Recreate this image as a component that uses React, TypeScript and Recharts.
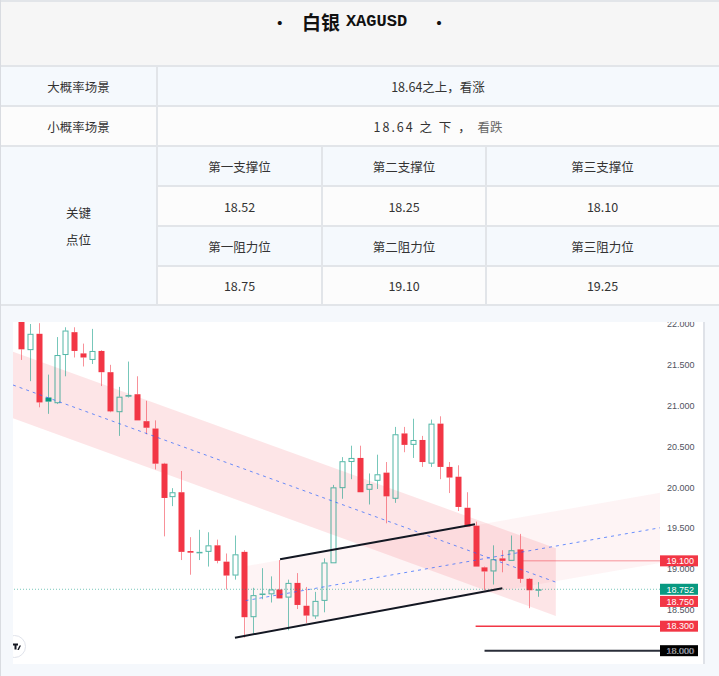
import React from 'react';
import { ComposedChart, Bar, Area, XAxis, YAxis, ReferenceLine } from 'recharts';

// ---------- table content ----------
const titleCn = '白银';
const titleCode = 'XAGUSD';
const scenarioLabels = ['大概率场景', '小概率场景'];
const keyLabelLines = ['关键', '点位'];
const supportLabels = ['第一支撑位', '第二支撑位', '第三支撑位'];
const supportValues = ['18.52', '18.25', '18.10'];
const resistanceLabels = ['第一阻力位', '第二阻力位', '第三阻力位'];
const resistanceValues = ['18.75', '19.10', '19.25'];

// ---------- candle data (daily bars, index = position) ----------
const opens = [22.10,21.68,21.88,21.10,21.03,21.62,21.90,21.64,21.56,21.67,21.41,20.92,21.11,21.14,20.81,20.72,20.29,19.88,19.94,19.22,19.20,19.21,19.29,19.09,18.92,19.21,18.41,18.69,18.69,18.75,18.65,18.83,18.55,18.42,18.61,19.07,19.99,20.31,20.36,19.97,20.08,20.18,19.86,20.66,20.52,20.58,20.29,20.78,20.25,20.13,19.75,19.53,19.02,18.97,19.13,19.10,19.24,18.88,18.74];
const highs = [22.20,22.00,22.01,21.38,21.84,21.96,21.96,21.76,21.94,21.68,21.50,21.23,21.54,21.36,21.06,20.82,20.30,19.99,20.20,19.39,19.48,19.45,19.36,19.19,19.41,19.23,18.77,19.01,18.91,19.11,18.87,18.95,18.78,18.72,19.13,20.03,20.37,20.51,20.51,20.17,20.40,20.31,20.74,20.74,20.84,20.63,20.83,20.87,20.31,20.27,19.94,19.58,19.03,19.29,19.23,19.41,19.43,18.89,18.84];
const lows = [21.56,21.30,20.98,20.90,21.02,21.36,21.59,21.48,21.51,21.24,20.92,20.63,21.10,20.82,20.65,20.22,19.40,19.77,19.11,18.93,19.11,19.03,19.07,18.75,18.87,18.16,18.21,18.63,18.59,18.64,18.25,18.51,18.34,18.39,18.47,19.07,19.86,20.10,19.94,19.79,19.98,19.56,19.81,20.43,20.36,20.25,20.25,20.10,19.93,19.71,19.52,19.03,18.74,18.81,18.96,19.10,18.83,18.52,18.66];
const closes = [21.69,21.88,21.04,21.05,21.62,21.92,21.67,21.59,21.67,21.41,20.93,21.11,21.13,20.82,20.73,20.29,19.87,19.94,19.21,19.20,19.21,19.29,19.10,18.92,19.18,18.41,18.68,18.70,18.75,18.64,18.83,18.56,18.43,18.61,19.08,20.00,20.32,20.36,19.94,20.04,20.16,19.89,20.65,20.52,20.58,20.31,20.78,20.25,20.12,19.76,19.52,19.03,18.97,19.12,19.10,19.23,18.88,18.74,18.752];

// ---------- axis ----------
const yTicks = [18, 18.5, 19, 19.5, 20, 20.5, 21, 21.5, 22];
const X_DOMAIN = [-0.8975, 71.685];
const Y_DOMAIN = [17.837, 22.0245];

// ---------- drawings ----------
const descChannelX = [-0.8975, 60];
const descChannelTop = [21.661, 19.254];
const descChannelBottom = [20.845, 18.425];
const descMedian = [21.253, 18.839];

const ascChannelX = [25.2, 71.685];
const ascChannelTop = [19.035, 19.935];
const ascChannelBottom = [18.19, 19.074];
const ascMedian = [18.613, 19.505];

const upperTrendX = [29.06, 50.93];
const upperTrendY = [19.119, 19.548];
const lowerTrendX = [24.0, 54.0];
const lowerTrendY = [18.159, 18.764];

const lastPrice = 18.752;
const resistPrice = 19.1;
const resistStart = 56.3;
const stopPrice = 18.3;
const stopStart = 51.0;
const targetPrice = 18.0;
const targetStart = 52.0;
const levelTagPrice = 18.75;

const RED = '#f23645';
const GREEN = '#089981';

const candles = opens.map((o, i) => ({
  x: i,
  open: o,
  high: highs[i],
  low: lows[i],
  close: closes[i],
  range: [lows[i], highs[i]],
  up: i === 0 ? closes[i] >= o : closes[i] >= closes[i - 1],
  hollow: closes[i] > o,
}));

const descChannel = descChannelX.map((x, k) => ({ x, band: [descChannelBottom[k], descChannelTop[k]] }));
const ascChannel = ascChannelX.map((x, k) => ({ x, band: [ascChannelBottom[k], ascChannelTop[k]] }));

const CandleShape = (props: any) => {
  const { x, y, width, height, payload } = props;
  if (payload == null || x == null) return null;
  const top = Math.min(y, y + height);
  const h = Math.abs(height);
  const { open, close, high, low, up, hollow } = payload;
  const span = high - low || 1;
  const py = (p: number) => top + ((high - p) / span) * h;
  const cx = Math.round(x + width / 2) + 0.5;
  const color = up ? GREEN : RED;
  const bTop = py(Math.max(open, close));
  const bBot = py(Math.min(open, close));
  const bh = Math.max(bBot - bTop, 1.5);
  return (
    <g>
      <line x1={cx} x2={cx} y1={top} y2={bTop} stroke={color} strokeOpacity={0.55} strokeWidth={1} />
      <line x1={cx} x2={cx} y1={bTop + bh} y2={top + h} stroke={color} strokeOpacity={0.55} strokeWidth={1} />
      {hollow ? (
        <rect x={cx - 2.5} y={bTop + 0.5} width={5} height={Math.max(bh - 1, 0.5)} fill="none" stroke={color} strokeOpacity={0.7} strokeWidth={1} />
      ) : (
        <rect x={cx - 3} y={bTop} width={6} height={bh} fill={color} />
      )}
    </g>
  );
};

const Tag = ({ viewBox, text, fill, dy = 0 }: any) => {
  if (!viewBox) return null;
  const x = viewBox.x + viewBox.width;
  const y = viewBox.y + dy;
  return (
    <g>
      <rect x={x} y={y - 5.5} width={38} height={11} fill={fill} />
      <text x={x + 6.5} y={y} dy="0.36em" fill="#ffffff" fontSize={9} fontFamily="'Liberation Sans', Arial, sans-serif">
        {text}
      </text>
    </g>
  );
};

const FONT = "'Noto Sans CJK SC', 'Noto Sans', sans-serif";
const LINE = '#e2e5e9';
const BLUE_BG = '#f5f9fd';
const WHITE_BG = '#fcfcfc';

const Box = ({ l, t, w, h, bg, children, style }: any) => (
  <div
    style={{
      position: 'absolute', left: l, top: t, width: w, height: h, background: bg,
      display: 'flex', alignItems: 'center', justifyContent: 'center',
      fontFamily: FONT, fontSize: 12.5, color: '#333', ...style,
    }}
  >
    {children}
  </div>
);

const HLine = ({ x, y, w }: any) => (
  <div style={{ position: 'absolute', left: x, top: y, width: w, height: 2, background: LINE }} />
);
const VLine = ({ x, y, h }: any) => (
  <div style={{ position: 'absolute', left: x, top: y, width: 2, height: h, background: LINE }} />
);

export default function App() {
  const colX = [157, 322, 486, 719];
  return (
    <div style={{ position: 'absolute', left: 0, top: 0, width: 719, height: 676, background: '#fff', overflow: 'hidden' }}>
      {/* title */}
      <Box l={0} t={0} w={719} h={66} bg="#f6f6f6" style={{ alignItems: 'flex-start' }}>
        <div style={{ marginTop: 8, fontWeight: 700, fontSize: 19, color: '#111', whiteSpace: 'pre', display: 'flex', alignItems: 'center' }}>
          <span style={{ fontSize: 16 }}>•</span>
          <span style={{ marginLeft: 14 }}>{titleCn}</span>
          <span style={{ marginLeft: 6, fontFamily: "'Liberation Mono', monospace", fontSize: 17 }}>{titleCode}</span>
          <span style={{ marginLeft: 24, fontSize: 16 }}>•</span>
        </div>
      </Box>
      {/* scenario rows */}
      <Box l={0} t={66} w={157} h={40} bg={BLUE_BG}>{scenarioLabels[0]}</Box>
      <Box l={157} t={66} w={562} h={40} bg={BLUE_BG}>18.64之上，看涨</Box>
      <Box l={0} t={106} w={157} h={40} bg={WHITE_BG}>{scenarioLabels[1]}</Box>
      <Box l={157} t={106} w={562} h={40} bg={WHITE_BG} style={{ whiteSpace: 'pre' }}>
        <span style={{ letterSpacing: 2 }}>18.64 之 下 ， </span>
        <span style={{ color: '#666' }}>看跌</span>
      </Box>
      {/* key levels */}
      <Box l={0} t={146} w={157} h={159} bg={BLUE_BG} style={{ flexDirection: 'column', lineHeight: '27px' }}>
        <div>{keyLabelLines[0]}</div>
        <div>{keyLabelLines[1]}</div>
      </Box>
      {supportLabels.map((s, k) => (
        <Box key={'sl' + k} l={colX[k]} t={146} w={colX[k + 1] - colX[k]} h={40} bg={BLUE_BG}>{s}</Box>
      ))}
      {supportValues.map((s, k) => (
        <Box key={'sv' + k} l={colX[k]} t={186} w={colX[k + 1] - colX[k]} h={40} bg={WHITE_BG}>{s}</Box>
      ))}
      {resistanceLabels.map((s, k) => (
        <Box key={'rl' + k} l={colX[k]} t={226} w={colX[k + 1] - colX[k]} h={40} bg={BLUE_BG}>{s}</Box>
      ))}
      {resistanceValues.map((s, k) => (
        <Box key={'rv' + k} l={colX[k]} t={266} w={colX[k + 1] - colX[k]} h={39} bg={WHITE_BG}>{s}</Box>
      ))}
      {/* grid lines */}
      <HLine x={0} y={0} w={719} />
      <HLine x={0} y={65} w={719} />
      <HLine x={0} y={105} w={719} />
      <HLine x={0} y={145} w={719} />
      <HLine x={157} y={185} w={562} />
      <HLine x={157} y={225} w={562} />
      <HLine x={157} y={265} w={562} />
      <HLine x={0} y={304} w={719} />
      <VLine x={156} y={66} h={239} />
      <VLine x={321} y={146} h={159} />
      <VLine x={485} y={146} h={159} />

      {/* chart area */}
      <div style={{ position: 'absolute', left: 0, top: 306, width: 719, height: 370, background: '#f5f8fc' }} />
      <div style={{ position: 'absolute', left: 0, top: 0, width: 1, height: 676, background: '#d9dce1' }} />
      <div style={{ position: 'absolute', left: 13, top: 322, width: 690, height: 342, background: '#fff', overflow: 'hidden' }}>
        <ComposedChart width={690} height={342} data={candles} margin={{ top: 0, right: 0, bottom: 0, left: 0 }}>
          <XAxis dataKey="x" type="number" domain={X_DOMAIN} allowDataOverflow hide />
          <YAxis
            orientation="right"
            width={43}
            domain={Y_DOMAIN}
            allowDataOverflow
            ticks={yTicks}
            interval={0}
            tickFormatter={(v: number) => v.toFixed(3)}
            axisLine={false}
            tickLine={false}
            tickSize={5}
            tickMargin={2}
            tick={{ fill: '#50535e', fontSize: 9, fontFamily: "'Liberation Sans', Arial, sans-serif" }}
          />
          <Area data={descChannel} dataKey="band" type="linear" stroke="none" fill={RED} fillOpacity={0.13} isAnimationActive={false} dot={false} activeDot={false} />
          <Area data={ascChannel} dataKey="band" type="linear" stroke="none" fill={RED} fillOpacity={0.055} isAnimationActive={false} dot={false} activeDot={false} />
          <ReferenceLine
            y={lastPrice}
            stroke={GREEN}
            strokeOpacity={0.55}
            strokeDasharray="1 2"
            label={(p: any) => <Tag viewBox={p.viewBox} text={lastPrice.toFixed(3)} fill={GREEN} />}
          />
          <Bar dataKey="range" barSize={6} shape={<CandleShape />} isAnimationActive={false} />
          <ReferenceLine
            segment={[{ x: descChannelX[0], y: descMedian[0] }, { x: descChannelX[1], y: descMedian[1] }]}
            stroke="#2962ff" strokeOpacity={0.7} strokeDasharray="3 4"
          />
          <ReferenceLine
            segment={[{ x: ascChannelX[0], y: ascMedian[0] }, { x: ascChannelX[1], y: ascMedian[1] }]}
            stroke="#2962ff" strokeOpacity={0.7} strokeDasharray="3 4"
          />
          <ReferenceLine
            segment={[{ x: upperTrendX[0], y: upperTrendY[0] }, { x: upperTrendX[1], y: upperTrendY[1] }]}
            stroke="#131722" strokeWidth={2}
          />
          <ReferenceLine
            segment={[{ x: lowerTrendX[0], y: lowerTrendY[0] }, { x: lowerTrendX[1], y: lowerTrendY[1] }]}
            stroke="#131722" strokeWidth={2}
          />
          <ReferenceLine
            segment={[{ x: resistStart, y: resistPrice }, { x: X_DOMAIN[1], y: resistPrice }]}
            stroke={RED} strokeOpacity={0.35} strokeWidth={1.5}
            label={(p: any) => <Tag viewBox={p.viewBox} text={resistPrice.toFixed(3)} fill={RED} />}
          />
          <ReferenceLine
            segment={[{ x: stopStart, y: stopPrice }, { x: X_DOMAIN[1], y: stopPrice }]}
            stroke={RED} strokeWidth={1.5}
            label={(p: any) => <Tag viewBox={p.viewBox} text={stopPrice.toFixed(3)} fill={RED} />}
          />
          <ReferenceLine
            segment={[{ x: targetStart, y: targetPrice }, { x: X_DOMAIN[1], y: targetPrice }]}
            stroke="#2a2e39" strokeWidth={2}
            label={(p: any) => <Tag viewBox={p.viewBox} text={targetPrice.toFixed(3)} fill="#000000" />}
          />
          <ReferenceLine
            y={levelTagPrice}
            stroke="none"
            strokeOpacity={0}
            label={(p: any) => <Tag viewBox={p.viewBox} text={levelTagPrice.toFixed(3)} fill={RED} dy={12} />}
          />
        </ComposedChart>
        {/* TradingView logo */}
        <div style={{ position: 'absolute', left: -10, top: 313, width: 21, height: 21, borderRadius: '50%', background: '#fff', border: '1px solid #e0e3eb' }}>
          <svg width={21} height={21} style={{ position: 'absolute', left: 0, top: 0 }}>
            <path d="M9 7.5 H14 V9.5 H12.5 V13.5 H10.5 V9.5 H9 Z" fill="#131722" />
            <path d="M15.5 9.5 L17 9.5 L14.8 14 L13.3 14 Z" fill="#131722" />
          </svg>
        </div>
      </div>
      <div style={{ position: 'absolute', left: 703, top: 322, width: 2, height: 342, background: '#dfe2e8' }} />
    </div>
  );
}
